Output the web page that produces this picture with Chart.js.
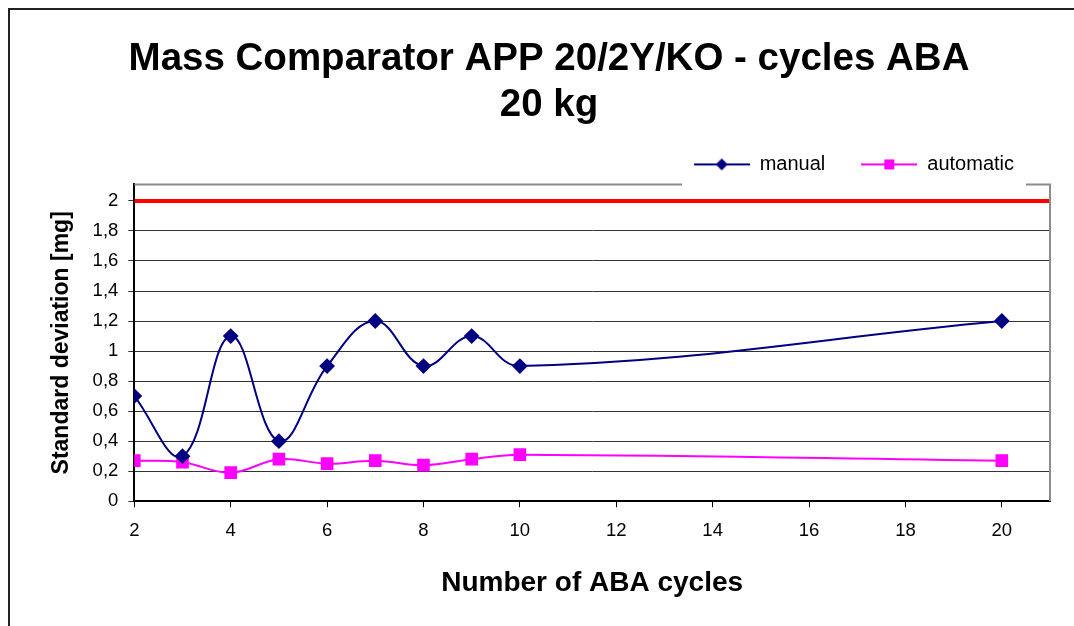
<!DOCTYPE html>
<html>
<head>
<meta charset="utf-8">
<script src="https://cdn.jsdelivr.net/npm/chart.js@4.4.0/dist/chart.umd.min.js"></script>
<style>
  html, body { margin: 0; padding: 0; background: #fff; }
  #wrap { position: relative; width: 1074px; height: 626px; }
  #frame { position: absolute; left: 8px; top: 8px; right: 0; bottom: 0;
           border-left: 2px solid #222; border-top: 2px solid #222; pointer-events: none; }
</style>
</head>
<body>
<div id="wrap">
  <canvas id="chart" width="1074" height="626"></canvas>
  <div id="frame"></div>
</div>
<script>
// Mass comparator - std deviation vs number of ABA cycles
const cycles = [2, 3, 4, 5, 6, 7, 8, 9, 10, 20];
const manualValues = [0.7, 0.3, 1.1, 0.4, 0.9, 1.2, 0.9, 1.1, 0.9, 1.2];
const automaticValues = [0.27, 0.26, 0.19, 0.28, 0.25, 0.27, 0.24, 0.28, 0.31, 0.27];
const limitX = [2, 21];
const limitY = [2, 2];
const xTicks = [2, 4, 6, 8, 10, 12, 14, 16, 18, 20];
const yTicks = [0, 0.2, 0.4, 0.6, 0.8, 1, 1.2, 1.4, 1.6, 1.8, 2];

const toPoints = (xs, ys) => xs.map((x, i) => ({ x: x, y: ys[i] }));

// legend icon: short line with marker in the middle
function legendIcon(color, style) {
    const c = document.createElement('canvas');
    c.width = 56; c.height = 14;
    const ctx = c.getContext('2d');
    ctx.strokeStyle = color;
    ctx.lineWidth = 2;
    ctx.beginPath();
    ctx.moveTo(0, 7); ctx.lineTo(56, 7);
    ctx.stroke();
    ctx.fillStyle = color;
    ctx.beginPath();
    if (style === 'diamond') {
        ctx.moveTo(28, 1); ctx.lineTo(34, 7); ctx.lineTo(28, 13); ctx.lineTo(22, 7);
    } else {
        ctx.rect(23, 2, 10, 10);
    }
    ctx.fill();
    return c;
}

// plot frame: gray top (broken under the legend) and right edge
const plotFrame = {
    id: 'plotFrame',
    afterDraw(chart) {
        const a = chart.chartArea;
        const ctx = chart.ctx;
        ctx.save();
        ctx.strokeStyle = '#8c8c8c';
        ctx.lineWidth = 2;
        ctx.beginPath();
        ctx.moveTo(a.left, a.top);
        ctx.lineTo(682, a.top);
        ctx.moveTo(1026, a.top);
        ctx.lineTo(a.right, a.top);
        ctx.lineTo(a.right, a.bottom);
        ctx.stroke();
        ctx.restore();
    }
};

Chart.defaults.color = '#000000';
Chart.defaults.font.family = '"Liberation Sans", Arial, sans-serif';

const config = {
    type: 'line',
    data: {
        datasets: [{
            label: 'manual',
            data: toPoints(cycles, manualValues),
            borderColor: '#000080',
            backgroundColor: '#000080',
            borderWidth: 2,
            pointStyle: 'rectRot',
            pointRadius: 6.5,
            tension: 0.4,
            order: 1
        }, {
            label: 'automatic',
            data: toPoints(cycles, automaticValues),
            borderColor: '#ff00ff',
            backgroundColor: '#ff00ff',
            borderWidth: 2,
            pointStyle: 'rect',
            pointRadius: 7.5,
            tension: 0.4,
            order: 2
        }, {
            label: 'limit',
            data: toPoints(limitX, limitY),
            borderColor: '#ff0000',
            borderWidth: 4,
            pointRadius: 0,
            order: 3
        }]
    },
    options: {
        responsive: false,
        animation: false,
        layout: {
            padding: { left: 48, right: 24, top: 0, bottom: 26 }
        },
        plugins: {
            title: {
                display: true,
                text: ['Mass Comparator APP 20/2Y/KO - cycles ABA', '20 kg'],
                font: { size: 38.5, weight: 'bold' },
                lineHeight: 1.25,
                padding: { top: 36, bottom: -10 }
            },
            legend: {
                display: true,
                position: 'top',
                align: 'end',
                labels: {
                    font: { size: 20 },
                    usePointStyle: true,
                    pointStyleWidth: 56,
                    padding: 36,
                    filter: item => item.text !== 'limit',
                    generateLabels: chart => chart.data.datasets.map((ds, i) => ({
                        text: ds.label,
                        datasetIndex: i,
                        pointStyle: legendIcon(ds.borderColor, ds.pointStyle === 'rectRot' ? 'diamond' : 'square'),
                        fillStyle: ds.borderColor,
                        strokeStyle: ds.borderColor,
                        lineWidth: 0,
                        fontColor: '#000'
                    }))
                }
            },
            tooltip: { enabled: false }
        },
        scales: {
            x: {
                type: 'linear',
                min: 2,
                max: 21,
                afterBuildTicks: axis => {
                    axis.ticks = xTicks.map(v => ({ value: v }));
                },
                ticks: {
                    font: { size: 18.5 },
                    padding: 13
                },
                grid: {
                    drawOnChartArea: false,
                    drawTicks: true,
                    tickLength: 6,
                    color: '#000'
                },
                border: { color: '#000', width: 2 },
                title: {
                    display: true,
                    text: 'Number of ABA cycles',
                    font: { size: 28, weight: 'bold' },
                    padding: { top: 11, bottom: 0 }
                }
            },
            y: {
                min: 0,
                max: 2.11,
                afterBuildTicks: axis => {
                    axis.ticks = yTicks.map(v => ({ value: v }));
                },
                ticks: {
                    font: { size: 18.5 },
                    padding: 10,
                    callback: v => String(Math.round(v * 10) / 10).replace('.', ',')
                },
                grid: {
                    color: '#333',
                    tickLength: 6,
                    lineWidth: 1
                },
                border: { color: '#000', width: 2 },
                title: {
                    display: true,
                    text: 'Standard deviation [mg]',
                    font: { size: 23, weight: 'bold' },
                    padding: { top: 0, bottom: 7 }
                }
            }
        }
    },
    plugins: [plotFrame]
};

const stdChart = new Chart(document.getElementById('chart'), config);
</script>
</body>
</html>
